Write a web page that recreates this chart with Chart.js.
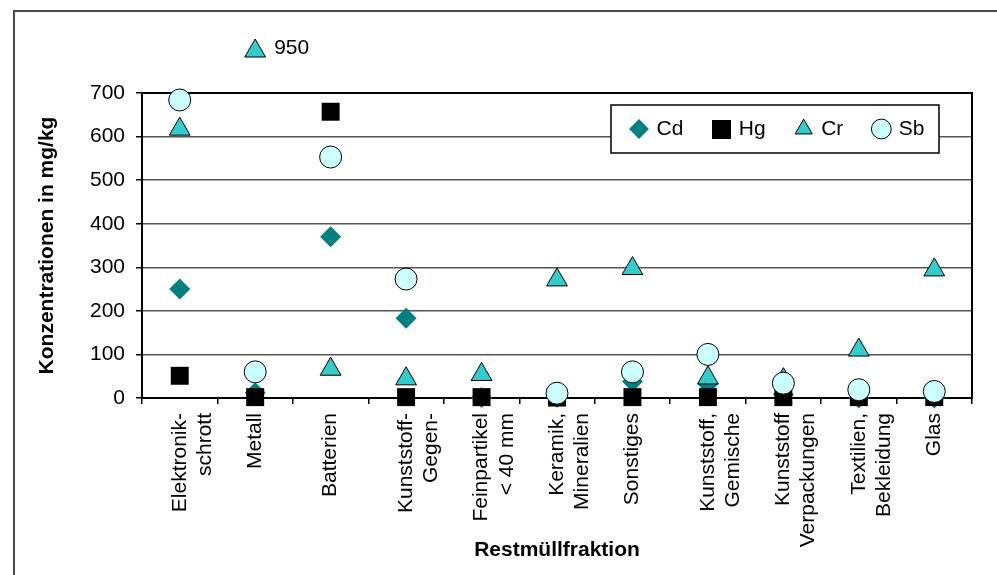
<!DOCTYPE html>
<html>
<head>
<meta charset="utf-8">
<script src="https://cdn.jsdelivr.net/npm/chart.js"></script>
<style>
  html, body { margin: 0; padding: 0; background: #fff; }
  #wrap { width: 997px; height: 575px; position: relative; }
</style>
</head>
<body>
<div id="wrap"><canvas id="c" width="997" height="575"></canvas></div>
<script>
// ---- data ----
const categories = [
  ['Elektronik-', 'schrott'],
  'Metall',
  'Batterien',
  ['Kunststoff-', 'Gegen-'],
  ['Feinpartikel', '< 40 mm'],
  ['Keramik,', 'Mineralien'],
  'Sonstiges',
  ['Kunststoff,', 'Gemische'],
  ['Kunststoff', 'Verpackungen'],
  ['Textilien,', 'Bekleidung'],
  'Glas'
];
const seriesNames = ['Cd', 'Hg', 'Cr', 'Sb'];
const cdValues = [250, 12, 370, 183, 1, 2, 38, 32, 8, 0, 0];
const hgValues = [51, 2, 657, 2, 2, 1, 2, 2, 2, 2, 2];
const crValues = [617, 950, 66, 44, 54, 271, 297, 46, 42, 110, 294];
const sbValues = [684, 60, 553, 273, null, 11, 60, 100, 34, 19, 15];
const yTicks = { min: 0, max: 700, step: 100 };
const yTitle = 'Konzentrationen in mg/kg';
const xTitle = 'Restmüllfraktion';

const FONT = "'Liberation Sans', Arial, Helvetica, sans-serif";
Chart.defaults.font.family = FONT;
Chart.defaults.font.size = 21;
Chart.defaults.color = '#000';

function ds(label, data, style, radius, bg, border, bw) {
  return {
    label, data,
    showLine: false,
    pointStyle: style,
    pointRadius: radius,
    pointHoverRadius: radius,
    backgroundColor: bg,
    borderColor: border,
    pointBackgroundColor: bg,
    pointBorderColor: border,
    pointBorderWidth: bw,
    pointHoverBorderWidth: bw,
    borderWidth: bw,
    clip: { left: false, right: false, bottom: false, top: 14 }
  };
}

const datasets = [
  Object.assign(ds(seriesNames[0], cdValues, 'rectRot', 10.5, '#008080', '#008080', 0), { order: 3 }),
  Object.assign(ds(seriesNames[1], hgValues, 'rect', 12.7, '#000000', '#000000', 0), { order: 2 }),
  Object.assign(ds(seriesNames[2], crValues, 'triangle', 12, '#33CCCC', '#000000', 1), { order: 1 }),
  Object.assign(ds(seriesNames[3], sbValues, 'circle', 11, '#CCFFFF', '#000000', 1), { order: 0 })
];

// larger square swatch for the legend (library draws 'rect' smaller than the other symbols)
const squareSwatch = document.createElement('canvas');
squareSwatch.width = 19; squareSwatch.height = 19;
(function () { const g = squareSwatch.getContext('2d'); g.fillStyle = '#000'; g.fillRect(0, 0, 19, 19); })();

const decor = {
  id: 'decor',
  beforeLayout(chart) {
    const lg = chart.legend;
    if (lg) lg._layers = () => [{ z: 1, draw: (ca) => lg.draw(ca) }];
  },
  afterLayout(chart) {
    const lg = chart.legend, ca = chart.chartArea;
    if (!lg) return;
    lg.left = ca.right - 371;
    lg.right = chart.width + 400;
    lg.top = ca.top - 5.5;
    lg.bottom = lg.top + 80;
    lg.height = 80;
  },
  beforeDraw(chart) {
    const ctx = chart.ctx;
    ctx.save();
    ctx.strokeStyle = '#4a4a4a';
    ctx.lineWidth = 2;
    ctx.beginPath();
    ctx.moveTo(14, chart.height + 2);
    ctx.lineTo(14, 11);
    ctx.lineTo(chart.width + 2, 11);
    ctx.stroke();
    ctx.restore();
  },
  beforeDatasetsDraw(chart) {
    const ctx = chart.ctx, ca = chart.chartArea;
    ctx.save();
    ctx.strokeStyle = '#000';
    ctx.lineWidth = 2;
    ctx.strokeRect(ca.left, ca.top, ca.right - ca.left, ca.bottom - ca.top);
    ctx.restore();
  },
  afterDatasetsDraw(chart) {
    const ctx = chart.ctx, ca = chart.chartArea;
    const xs = chart.scales.x, ys = chart.scales.y;
    // legend frame
    ctx.save();
    ctx.fillStyle = '#fff';
    ctx.strokeStyle = '#000';
    ctx.lineWidth = 1.5;
    const bx = ca.right - 361, by = ca.top + 12, bw = 328, bh = 48;
    ctx.fillRect(bx, by, bw, bh);
    ctx.strokeRect(bx, by, bw, bh);
    ctx.restore();
    // off-scale values annotated above the plot
    chart.data.datasets.forEach((d) => {
      d.data.forEach((v, i) => {
        if (v == null || v <= ys.max) return;
        const x = xs.getPixelForValue(i);
        const y = ca.top - 42;
        ctx.save();
        ctx.fillStyle = d.pointBackgroundColor;
        ctx.strokeStyle = d.pointBorderColor;
        ctx.lineWidth = d.pointBorderWidth;
        if (Chart.helpers && Chart.helpers.drawPoint) {
          Chart.helpers.drawPoint(ctx, { pointStyle: d.pointStyle, radius: d.pointRadius, borderWidth: d.pointBorderWidth, rotation: 0 }, x, y);
        }
        ctx.fillStyle = '#000';
        ctx.font = '21px ' + FONT;
        ctx.textAlign = 'left';
        ctx.textBaseline = 'middle';
        ctx.fillText(String(v), x + 19, y - 3);
        ctx.restore();
      });
    });
  }
};

new Chart(document.getElementById('c'), {
  type: 'line',
  data: { labels: categories, datasets },
  options: {
    responsive: false,
    devicePixelRatio: 1,
    animation: false,
    layout: { padding: { left: 0, right: 25, top: 92, bottom: 0 } },
    plugins: {
      tooltip: { enabled: false },
      legend: {
        position: 'top',
        align: 'start',
        maxHeight: 1,
        labels: {
          usePointStyle: true,
          boxWidth: 14,
          boxHeight: 14,
          padding: 31,
          color: '#000',
          font: { size: 21 },
          sort: (a, b) => a.datasetIndex - b.datasetIndex,
          generateLabels(chart) {
            const items = Chart.defaults.plugins.legend.labels.generateLabels(chart);
            items.forEach((it) => { if (it.pointStyle === 'rect') it.pointStyle = squareSwatch; });
            return items;
          }
        }
      }
    },
    scales: {
      x: {
        type: 'category',
        offset: true,
        grid: { display: true, offset: true, drawOnChartArea: false, drawTicks: true, tickLength: 6, color: '#000', lineWidth: 1.5 },
        border: { display: true, color: '#000', width: 2 },
        ticks: { autoSkip: false, maxRotation: 90, minRotation: 90, padding: 9, color: '#000', font: { size: 21 } },
        title: { display: true, text: xTitle, font: { size: 21, weight: 'bold' }, color: '#000', padding: { top: 0, bottom: 12 } },
        afterFit(scale) { scale.height = 177; }
      },
      y: {
        min: yTicks.min,
        max: yTicks.max,
        ticks: { stepSize: yTicks.step, padding: 11, color: '#000', font: { size: 21 } },
        grid: { color: '#555', lineWidth: 1.5, tickColor: '#000', tickLength: 6 },
        border: { display: true, color: '#000', width: 2 },
        title: { display: true, text: yTitle, font: { size: 21, weight: 'bold' }, color: '#000', padding: { top: 35, bottom: 0 } },
        afterFit(scale) { scale.width = 142; }
      }
    }
  },
  plugins: [decor]
});
</script>
</body>
</html>
